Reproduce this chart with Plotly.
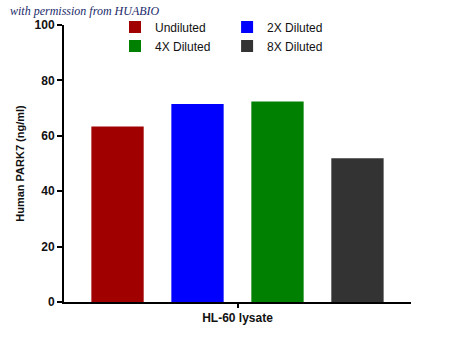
import plotly.graph_objects as go

category = ["HL-60 lysate"]
series_names = ["Undiluted", "2X Diluted", "4X Diluted", "8X Diluted"]
series_values = [63.4, 71.5, 72.4, 51.9]
series_colors = ["#a00000", "#0000ff", "#008000", "#333333"]
legend_ids = ["legend", "legend2", "legend", "legend2"]
y_ticks = [0, 20, 40, 60, 80, 100]

fig = go.Figure()
for name, val, col, lg in zip(series_names, series_values, series_colors, legend_ids):
    fig.add_trace(go.Bar(
        x=category, y=[val], name=name,
        marker=dict(color=col, line=dict(width=0)),
        legend=lg,
    ))

legend_font = dict(family="Liberation Sans, Arial, sans-serif", size=12, color="#111111")
fig.update_layout(
    width=450, height=344,
    margin=dict(l=64, r=39, t=25, b=42),
    paper_bgcolor="white", plot_bgcolor="white",
    barmode="group", bargap=0.078, bargroupgap=0.346,
    showlegend=True,
    legend=dict(x=0.147, y=1.045, xanchor="left", yanchor="top",
                bgcolor="rgba(0,0,0,0)", font=legend_font,
                tracegroupgap=0, itemsizing="constant"),
    legend2=dict(x=0.47, y=1.045, xanchor="left", yanchor="top",
                 bgcolor="rgba(0,0,0,0)", font=legend_font,
                 tracegroupgap=0, itemsizing="constant"),
    xaxis=dict(
        showline=True, linecolor="black", linewidth=2,
        ticks="outside", ticklen=4, tickwidth=2, tickcolor="black",
        tickfont=dict(family="Liberation Sans, Arial, sans-serif", size=12, color="#111111", weight="bold"),
        showgrid=False, zeroline=False,
    ),
    yaxis=dict(
        range=[0, 100], tickvals=y_ticks,
        showline=True, linecolor="black", linewidth=2,
        ticks="outside", ticklen=5, tickwidth=2, tickcolor="black",
        tickfont=dict(family="Liberation Sans, Arial, sans-serif", size=12, color="#111111", weight="bold"),
        showgrid=False, zeroline=False,
        title=dict(text="Human PARK7 (ng/ml)", standoff=8,
                   font=dict(family="Liberation Sans, Arial, sans-serif", size=11, color="#111111", weight="bold")),
    ),
)

fig.add_annotation(
    text="<i>with permission from HUABIO</i>",
    xref="paper", yref="paper", x=-0.16, y=1.082, xanchor="left", yanchor="top",
    showarrow=False,
    font=dict(family="Liberation Serif, serif", size=12, color="#1a2a6a"),
)

fig.write_html("out.html")
